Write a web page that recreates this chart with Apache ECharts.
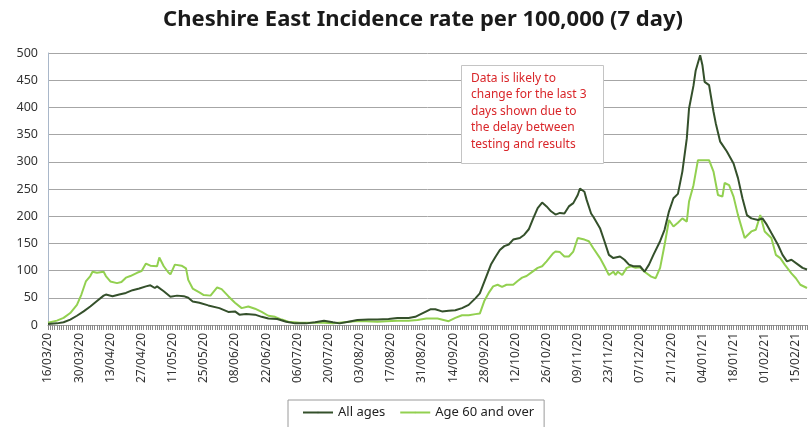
<!DOCTYPE html>
<html>
<head>
<meta charset="utf-8">
<script src="https://cdn.jsdelivr.net/npm/echarts@6/dist/echarts.min.js"></script>
<style>html,body{margin:0;padding:0;background:#fff;}#c{width:808px;height:427px;}</style>
</head>
<body>
<div id="c"></div>
<script>
// Daily categories: 16/03/20 .. 20/02/21
const startDate = [2020, 2, 16];
const dayCount = 342;
// Sampled readings: day offset since 16/03/20 and value per 100,000
const allAgesDays = [0,4,7,10,13,16,19,22,25,26,29,32,35,38,41,44,46,48,49,52,55,58,61,63,65,68,72,77,81,84,86,89,93,96,99,103,107,111,116,120,124,128,131,135,139,144,148,153,157,162,165,167,170,172,174,177,180,183,186,189,192,194,197,199,201,203,205,207,209,212,214,216,218,220,222,224,226,228,230,232,234,236,238,239,241,242,244,245,248,250,252,254,257,259,261,263,266,268,270,272,275,277,279,281,283,285,287,288,290,291,293,294,295,297,299,300,302,303,305,308,310,312,314,316,319,321,323,325,328,330,332,334,337,339,341];
const allAgesVals = [2,3,5,10,17,25,34,44,54,56,53,56,59,64,67,71,73,68,71,62,52,54,53,50,43,41,36,31,24,25,19,20,19,15,12,11,6,3,3,5,8,5,3,6,9,10,10,11,13,13,15,19,25,29,29,25,26,27,31,37,49,58,90,111,125,138,145,148,157,160,166,176,196,215,225,218,209,203,206,205,218,224,239,251,245,230,205,199,178,154,129,123,126,120,111,108,108,98,111,129,154,175,209,233,241,282,343,398,440,468,496,478,447,441,392,371,337,331,319,297,270,233,202,196,193,196,184,169,147,129,117,120,111,105,102];
const over60Days = [0,4,7,10,13,15,17,19,20,22,25,26,28,31,33,35,37,40,42,44,46,49,50,52,54,55,57,60,62,63,65,68,70,73,76,78,81,84,87,90,93,96,99,102,105,108,113,119,124,128,133,138,143,148,152,157,162,166,170,175,180,183,186,189,192,194,196,198,200,202,204,206,209,211,213,215,218,220,222,224,227,228,230,232,234,236,238,241,243,245,248,250,252,254,255,256,258,260,262,264,266,268,271,273,275,277,279,281,283,285,287,288,290,292,295,297,299,301,303,304,306,308,310,313,316,318,320,322,325,327,329,331,334,336,338,341];
const over60Vals = [4,8,13,22,37,56,80,90,98,96,98,90,80,77,79,87,90,96,99,113,109,108,124,108,97,93,111,109,104,83,67,60,55,54,69,66,53,41,31,34,30,24,17,15,10,6,4,4,4,3,5,7,7,6,7,8,8,9,12,12,7,13,18,18,20,21,44,59,71,74,70,74,74,81,87,90,99,105,108,117,132,135,134,126,126,135,160,157,154,141,123,108,92,98,92,98,92,105,108,105,106,98,89,86,105,147,193,181,188,196,190,227,257,303,303,303,282,239,236,261,257,236,202,160,172,175,202,172,160,129,123,111,95,86,74,68];
const seriesNames = ['All ages', 'Age 60 and over'];
const titleText = 'Cheshire East Incidence rate per 100,000 (7 day)';
const noteLines = ['Data is likely to', 'change for the last 3', 'days shown due to', 'the delay between', 'testing and results'];

function pad(n){return (n<10?'0':'')+n;}
const categories = [];
for (let i = 0; i < dayCount; i++) {
  const d = new Date(Date.UTC(startDate[0], startDate[1], startDate[2] + i));
  categories.push(pad(d.getUTCDate()) + '/' + pad(d.getUTCMonth()+1) + '/' + String(d.getUTCFullYear()).slice(2));
}
const allAgesData = allAgesDays.map((d, i) => [d, allAgesVals[i]]);
const over60Data = over60Days.map((d, i) => [d, over60Vals[i]]);

const chart = echarts.init(document.getElementById('c'));
chart.setOption({
  animation: false,
  backgroundColor: '#fff',
  title: {
    text: titleText, left: 418, textAlign: 'center', top: 4,
    textStyle: {fontFamily: 'Noto Sans', fontWeight: 'bold', fontSize: 22, color: '#1a1a1a'}
  },
  grid: {left: 48, right: 1, top: 53, bottom: 102},
  xAxis: {
    type: 'category', data: categories, boundaryGap: false,
    axisLine: {show: true, lineStyle: {color: '#9a9a9a', width: 1}},
    axisTick: {show: true, interval: function () { return true; }, alignWithLabel: false, length: 5, lineStyle: {color: '#8a8a8a', width: 1}},
    axisLabel: {interval: 13, rotate: 90, fontFamily: 'Noto Sans', fontSize: 12, color: '#333', margin: 8},
    splitLine: {show: false}
  },
  yAxis: {
    type: 'value', min: 0, max: 500, interval: 50,
    axisLine: {show: true, lineStyle: {color: '#a9b7c9'}},
    axisTick: {show: false},
    axisLabel: {fontFamily: 'Noto Sans', fontSize: 12.5, color: '#333', margin: 10},
    splitLine: {lineStyle: {color: '#a6a6a6', width: 1}}
  },
  legend: {
    data: seriesNames, left: 288, top: 400,
    borderColor: '#9a9a9a', borderWidth: 1, padding: [6, 10, 10, 14],
    itemWidth: 30, itemHeight: 2, itemGap: 14,
    textStyle: {fontFamily: 'Noto Sans', fontSize: 13, color: '#222'}
  },
  series: [
    {name: seriesNames[0], type: 'line', data: allAgesData, symbol: 'none', z: 3,
     lineStyle: {color: '#34502b', width: 2}, itemStyle: {color: '#34502b'}},
    {name: seriesNames[1], type: 'line', data: over60Data, symbol: 'none', z: 2,
     lineStyle: {color: '#92d050', width: 2}, itemStyle: {color: '#92d050'}}
  ],
  graphic: [
    {type: 'rect', left: 461, top: 65, z: 10,
     shape: {width: 142, height: 98}, style: {fill: '#fff', stroke: '#c4c4c4', lineWidth: 1}},
    {type: 'text', left: 471, top: 70, z: 11,
     style: {text: noteLines.join('\n'), fill: '#d9262a', fontFamily: 'Noto Sans', fontSize: 12, lineHeight: 16.5}}
  ]
});
</script>
</body>
</html>
